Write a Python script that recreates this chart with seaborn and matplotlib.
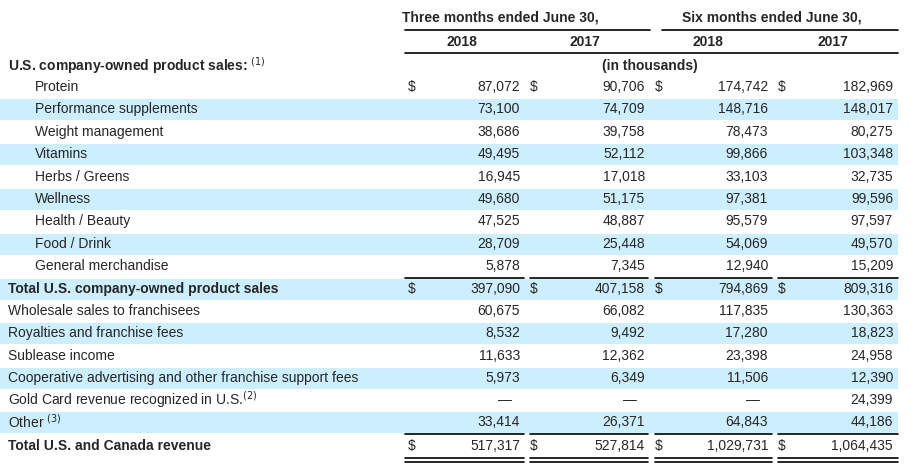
import matplotlib
matplotlib.use("Agg")
import matplotlib.pyplot as plt
import seaborn as sns

labels = ["Protein", "Performance supplements", "Weight management", "Vitamins",
          "Herbs / Greens", "Wellness", "Health / Beauty", "Food / Drink",
          "General merchandise", "Total U.S. company-owned product sales",
          "Wholesale sales to franchisees", "Royalties and franchise fees",
          "Sublease income", "Cooperative advertising and other franchise support fees",
          "Gold Card revenue recognized in U.S.$^{(2)}$", "Other $^{(3)}$",
          "Total U.S. and Canada revenue"]
q2_2018 = ["87,072", "73,100", "38,686", "49,495", "16,945", "49,680", "47,525", "28,709", "5,878",
           "397,090", "60,675", "8,532", "11,633", "5,973", "\u2014", "33,414", "517,317"]
q2_2017 = ["90,706", "74,709", "39,758", "52,112", "17,018", "51,175", "48,887", "25,448", "7,345",
           "407,158", "66,082", "9,492", "12,362", "6,349", "\u2014", "26,371", "527,814"]
h1_2018 = ["174,742", "148,716", "78,473", "99,866", "33,103", "97,381", "95,579", "54,069", "12,940",
           "794,869", "117,835", "17,280", "23,398", "11,506", "\u2014", "64,843", "1,029,731"]
h1_2017 = ["182,969", "148,017", "80,275", "103,348", "32,735", "99,596", "97,597", "49,570", "15,209",
           "809,316", "130,363", "18,823", "24,958", "12,390", "24,399", "44,186", "1,064,435"]
years = ["2018", "2017", "2018", "2017"]
indented = set(range(9))
bold_rows = {9, 16}
dollar_rows = {0, 9, 16}

sns.set_theme(style="white")
plt.rcParams["font.family"] = ["Liberation Sans", "DejaVu Sans"]

fig = plt.figure(figsize=(9.11, 4.7), dpi=100)
ax = fig.add_axes([0, 0, 1, 1])
ax.set_xlim(0, 911)
ax.set_ylim(470, 0)
ax.axis("off")

row_y = [87, 109, 132, 154, 177, 199, 221, 244, 266, 289, 311, 333, 356, 378, 400, 422, 446]
shade = [i for i in range(len(labels)) if i % 2 == 1]
ax.barh([row_y[i] for i in shade], [898] * len(shade), height=21, left=0,
        color="#cdeefc", edgecolor="none")

fs = 10
ax.text(500, 18, "Three months ended June 30,", ha="center", va="center", fontsize=fs, weight="bold")
ax.text(772, 18, "Six months ended June 30,", ha="center", va="center", fontsize=fs, weight="bold")
ax.plot([405, 650], [30, 30], color="black", lw=1.2)
ax.plot([662, 898], [30, 30], color="black", lw=1.2)
for x, yr in zip([462, 585, 708, 833], years):
    ax.text(x, 42, yr, ha="center", va="center", fontsize=fs, weight="bold")
ax.plot([405, 898], [53, 53], color="black", lw=1.2)
ax.text(650, 66, "(in thousands)", ha="center", va="center", fontsize=fs, weight="bold")
ax.text(8, 66, "U.S. company-owned product sales: $^{(1)}$", ha="left", va="center",
        fontsize=fs, weight="bold")

dollar_x = [408, 530, 655, 778]
num_x = [520, 645, 768, 893]
seg = [(405, 524), (530, 648), (655, 772), (778, 898)]
cols = [q2_2018, q2_2017, h1_2018, h1_2017]
for i, lab in enumerate(labels):
    y = row_y[i]
    w = "bold" if i in bold_rows else "normal"
    ax.text(35 if i in indented else 8, y, lab, ha="left", va="center", fontsize=fs, weight=w)
    for c in range(4):
        val = cols[c][i]
        ax.text(num_x[c] - (8 if val == "\u2014" else 0), y, val, ha="right", va="center", fontsize=fs)
        if i in dollar_rows:
            ax.text(dollar_x[c], y, "$", ha="left", va="center", fontsize=fs)

for a, b in seg:
    ax.plot([a, b], [278, 278], color="black", lw=1.2)
    ax.plot([a, b], [434, 434], color="black", lw=1.2)
    ax.plot([a, b], [457.5, 457.5], color="black", lw=1.2)
    ax.plot([a, b], [461.5, 461.5], color="black", lw=1.2)

fig.savefig("out.png", dpi=100)
